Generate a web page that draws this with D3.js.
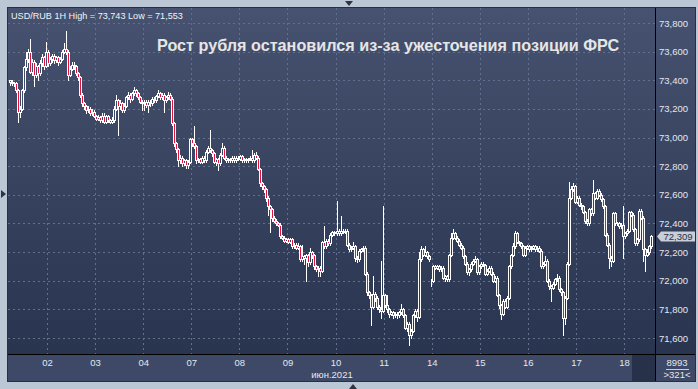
<!DOCTYPE html>
<html>
<head>
<meta charset="utf-8">
<script src="https://cdn.jsdelivr.net/npm/d3@7"></script>
<style>
  body { margin: 0; background: #bcc7d6; }
  svg { display: block; font-family: "Liberation Sans", Arial, sans-serif; }
</style>
</head>
<body>
<svg id="chart" width="698" height="389"></svg>
<script>
// USD/RUB 1H, 321 hourly bars (01.06 - 18.06.2021)
const opens = [
  73.40,73.39,73.38,73.38,73.33,73.18,73.20,73.33,73.49,73.55,
  73.60,73.46,73.53,73.44,73.50,73.45,73.52,73.56,73.50,73.60,
  73.52,73.55,73.57,73.54,73.56,73.53,73.55,73.60,73.62,73.60,
  73.44,73.48,73.51,73.50,73.45,73.42,73.30,73.24,73.22,73.19,
  73.20,73.17,73.18,73.15,73.13,73.14,73.12,73.15,73.11,73.15,
  73.12,73.11,73.12,73.20,73.26,73.22,73.24,73.19,73.22,73.28,
  73.30,73.27,73.31,73.33,73.31,73.28,73.25,73.24,73.25,73.23,
  73.25,73.24,73.27,73.26,73.29,73.31,73.28,73.30,73.26,73.28,
  73.30,73.27,73.10,72.96,72.92,72.84,72.86,72.82,72.84,72.81,
  72.83,72.99,72.96,72.94,72.84,72.85,72.83,72.86,72.84,72.90,
  72.93,72.91,72.89,72.83,72.85,72.82,72.88,72.93,72.86,72.84,
  72.85,72.84,72.86,72.84,72.86,72.85,72.87,72.84,72.85,72.84,
  72.85,72.86,72.84,72.88,72.86,72.78,72.68,72.66,72.64,72.58,
  72.52,72.50,72.44,72.42,72.40,72.39,72.31,72.30,72.28,72.29,
  72.27,72.29,72.24,72.25,72.23,72.24,72.15,72.17,72.16,72.18,
  72.13,72.20,72.18,72.10,72.08,72.09,72.07,72.27,72.24,72.28,
  72.26,72.32,72.34,72.33,72.35,72.33,72.35,72.34,72.35,72.25,
  72.22,72.23,72.24,72.16,72.15,72.21,72.22,72.23,72.05,71.92,
  71.90,71.82,71.91,71.88,71.82,71.80,71.79,71.90,71.83,71.80,
  71.77,71.78,71.76,71.77,71.76,71.78,71.80,71.76,71.67,71.70,
  71.62,71.65,71.76,71.79,71.75,72.15,72.22,72.18,72.20,72.17,
  72.00,72.00,72.10,72.09,72.10,72.08,72.09,72.02,72.03,72.01,
  72.18,72.30,72.33,72.30,72.28,72.25,72.23,72.17,72.12,72.06,
  72.08,72.12,72.14,72.15,72.06,72.10,72.12,72.11,72.05,72.07,
  72.09,72.05,72.00,72.02,71.90,71.83,71.77,71.86,71.82,71.88,
  72.10,72.18,72.24,72.33,72.27,72.26,72.24,72.18,72.23,72.24,
  72.22,72.23,72.24,72.22,72.23,72.21,72.10,72.12,72.14,72.00,
  71.96,71.95,71.98,72.01,72.02,71.94,71.92,71.74,71.88,72.12,
  72.58,72.64,72.66,72.55,72.58,72.53,72.52,72.48,72.42,72.40,
  72.50,72.47,72.61,72.58,72.63,72.60,72.57,72.52,72.32,72.25,
  72.16,72.14,72.47,72.40,72.40,72.38,72.39,72.31,72.33,72.35,
  72.48,72.46,72.36,72.26,72.29,72.49,72.44,72.22,72.18,72.20,
  72.24
];
const highs = [
  73.40,73.40,73.39,73.39,73.34,73.22,73.34,73.50,73.60,73.62,
  73.69,73.55,73.54,73.52,73.51,73.54,73.58,73.57,73.67,73.61,
  73.56,73.58,73.58,73.57,73.57,73.56,73.61,73.66,73.743,73.61,
  73.50,73.53,73.53,73.51,73.46,73.43,73.31,73.25,73.23,73.22,
  73.21,73.20,73.19,73.16,73.16,73.15,73.17,73.17,73.16,73.16,
  73.13,73.14,73.22,73.30,73.27,73.26,73.25,73.24,73.29,73.32,
  73.31,73.32,73.35,73.34,73.32,73.29,73.26,73.26,73.26,73.26,
  73.26,73.28,73.28,73.30,73.33,73.32,73.31,73.31,73.29,73.32,
  73.31,73.28,73.11,72.97,72.93,72.88,72.87,72.85,72.85,72.84,
  73.00,73.00,73.08,72.95,72.86,72.86,72.87,72.87,72.91,72.94,
  73.05,72.92,72.90,72.86,72.86,72.89,72.96,72.94,72.87,72.86,
  72.86,72.87,72.87,72.87,72.87,72.88,72.88,72.86,72.86,72.86,
  72.87,72.91,72.89,72.90,72.87,72.79,72.69,72.67,72.65,72.59,
  72.53,72.51,72.45,72.43,72.41,72.40,72.32,72.31,72.30,72.30,
  72.30,72.30,72.26,72.26,72.26,72.25,72.25,72.18,72.19,72.19,
  72.23,72.21,72.19,72.11,72.10,72.10,72.28,72.38,72.29,72.29,
  72.33,72.35,72.35,72.56,72.36,72.45,72.36,72.36,72.36,72.26,
  72.24,72.27,72.25,72.17,72.22,72.23,72.24,72.24,72.06,71.93,
  71.91,72.03,71.92,71.89,71.83,72.14,72.52,71.91,71.90,71.81,
  71.79,71.79,71.78,71.78,71.79,71.84,71.81,71.77,71.71,71.71,
  71.66,71.77,71.80,71.80,72.20,72.24,72.23,72.24,72.21,72.18,
  72.01,72.11,72.11,72.11,72.11,72.10,72.10,72.04,72.04,72.19,
  72.33,72.36,72.34,72.31,72.29,72.26,72.24,72.18,72.13,72.09,
  72.13,72.15,72.17,72.16,72.11,72.13,72.13,72.12,72.08,72.10,
  72.10,72.06,72.03,72.03,71.91,71.84,71.87,71.87,71.89,72.11,
  72.19,72.26,72.35,72.34,72.28,72.27,72.25,72.24,72.25,72.25,
  72.24,72.25,72.25,72.24,72.24,72.22,72.13,72.17,72.15,72.01,
  71.97,71.99,72.02,72.05,72.03,71.95,71.93,71.89,72.13,72.69,
  72.66,72.68,72.67,72.59,72.59,72.54,72.53,72.49,72.43,72.51,
  72.51,72.70,72.62,72.64,72.64,72.61,72.58,72.53,72.33,72.26,
  72.17,72.48,72.48,72.41,72.41,72.40,72.52,72.34,72.36,72.49,
  72.49,72.47,72.37,72.30,72.50,72.50,72.45,72.23,72.22,72.25,
  72.32
];
const lows = [
  73.37,73.37,73.36,73.32,73.11,73.14,73.19,73.32,73.47,73.53,
  73.45,73.44,73.36,73.42,73.40,73.44,73.50,73.48,73.49,73.50,
  73.51,73.53,73.52,73.53,73.51,73.52,73.54,73.59,73.58,73.40,
  73.43,73.47,73.48,73.44,73.40,73.28,73.22,73.20,73.17,73.18,
  73.16,73.16,73.14,73.12,73.12,73.11,73.11,73.10,73.10,73.11,
  73.10,73.10,73.11,73.19,73.02,73.20,73.18,73.18,73.21,73.27,
  73.25,73.26,73.30,73.29,73.27,73.24,73.19,73.19,73.21,73.18,
  73.22,73.23,73.25,73.25,73.28,73.27,73.27,73.18,73.25,73.27,
  73.26,73.09,72.94,72.90,72.80,72.82,72.80,72.81,72.79,72.79,
  72.82,72.94,72.93,72.82,72.83,72.82,72.82,72.83,72.83,72.89,
  72.90,72.87,72.82,72.81,72.77,72.81,72.87,72.85,72.83,72.83,
  72.83,72.83,72.83,72.83,72.84,72.84,72.83,72.83,72.83,72.83,
  72.84,72.83,72.83,72.85,72.77,72.66,72.64,72.62,72.56,72.46,
  72.34,72.42,72.41,72.39,72.38,72.30,72.29,72.27,72.27,72.26,
  72.26,72.23,72.23,72.22,72.22,72.14,72.14,72.12,72.00,72.10,
  72.12,72.16,72.08,72.07,72.03,72.03,72.06,72.23,72.23,72.25,
  72.25,72.31,72.32,72.32,72.32,72.32,72.33,72.33,72.24,72.21,
  72.21,72.22,72.14,72.13,72.14,72.20,72.21,72.04,71.90,71.88,
  71.69,71.81,71.86,71.80,71.78,71.74,71.78,71.82,71.78,71.75,
  71.76,71.74,71.75,71.74,71.75,71.77,71.75,71.66,71.65,71.553,
  71.60,71.64,71.75,71.72,71.74,72.14,72.17,72.17,72.16,72.14,
  71.96,71.99,72.08,72.08,72.07,72.07,72.01,72.00,72.00,72.00,
  72.17,72.29,72.29,72.27,72.24,72.22,72.16,72.11,72.05,72.04,
  72.07,72.11,72.13,72.05,72.05,72.09,72.10,72.04,72.04,72.06,
  72.04,71.99,71.99,71.89,71.81,71.73,71.76,71.81,71.81,71.87,
  72.09,72.17,72.23,72.26,72.25,72.23,72.17,72.17,72.22,72.21,
  72.21,72.22,72.21,72.21,72.20,72.09,72.09,72.11,71.99,71.94,
  71.86,71.94,71.97,72.00,71.93,71.90,71.62,71.70,71.87,72.11,
  72.57,72.63,72.54,72.54,72.52,72.50,72.47,72.40,72.39,72.39,
  72.46,72.46,72.57,72.57,72.59,72.56,72.51,72.31,72.24,72.09,
  72.10,72.13,72.39,72.39,72.37,72.37,72.16,72.30,72.32,72.34,
  72.45,72.35,72.25,72.25,72.28,72.43,72.14,72.07,72.17,72.19,
  72.23
];
const closes = [
  73.39,73.38,73.38,73.33,73.18,73.20,73.33,73.49,73.55,73.60,
  73.46,73.53,73.44,73.50,73.45,73.52,73.56,73.50,73.60,73.52,
  73.55,73.57,73.54,73.56,73.53,73.55,73.60,73.62,73.60,73.44,
  73.48,73.51,73.50,73.45,73.42,73.30,73.24,73.22,73.19,73.20,
  73.17,73.18,73.15,73.13,73.14,73.12,73.15,73.11,73.15,73.12,
  73.11,73.12,73.20,73.26,73.22,73.24,73.19,73.22,73.28,73.30,
  73.27,73.31,73.33,73.31,73.28,73.25,73.24,73.25,73.23,73.25,
  73.24,73.27,73.26,73.29,73.31,73.28,73.30,73.26,73.28,73.30,
  73.27,73.10,72.96,72.92,72.84,72.86,72.82,72.84,72.81,72.83,
  72.99,72.96,72.94,72.84,72.85,72.83,72.86,72.84,72.90,72.93,
  72.91,72.89,72.83,72.85,72.82,72.88,72.93,72.86,72.84,72.85,
  72.84,72.86,72.84,72.86,72.85,72.87,72.84,72.85,72.84,72.85,
  72.86,72.84,72.88,72.86,72.78,72.68,72.66,72.64,72.58,72.52,
  72.50,72.44,72.42,72.40,72.39,72.31,72.30,72.28,72.29,72.27,
  72.29,72.24,72.25,72.23,72.24,72.15,72.17,72.16,72.18,72.13,
  72.20,72.18,72.10,72.08,72.09,72.07,72.27,72.24,72.28,72.26,
  72.32,72.34,72.33,72.35,72.33,72.35,72.34,72.35,72.25,72.22,
  72.23,72.24,72.16,72.15,72.21,72.22,72.23,72.05,71.92,71.90,
  71.82,71.91,71.88,71.82,71.80,71.79,71.90,71.83,71.80,71.77,
  71.78,71.76,71.77,71.76,71.78,71.80,71.76,71.67,71.70,71.62,
  71.65,71.76,71.79,71.75,72.15,72.22,72.18,72.20,72.17,72.15,
  72.00,72.10,72.09,72.10,72.08,72.09,72.02,72.03,72.01,72.18,
  72.30,72.33,72.30,72.28,72.25,72.23,72.17,72.12,72.06,72.08,
  72.12,72.14,72.15,72.06,72.10,72.12,72.11,72.05,72.07,72.09,
  72.05,72.00,72.02,71.90,71.83,71.77,71.86,71.82,71.88,72.10,
  72.18,72.24,72.33,72.27,72.26,72.24,72.18,72.23,72.24,72.22,
  72.23,72.24,72.22,72.23,72.21,72.10,72.12,72.14,72.00,71.96,
  71.95,71.98,72.01,72.02,71.94,71.92,71.74,71.88,72.12,72.58,
  72.64,72.66,72.55,72.58,72.53,72.52,72.48,72.42,72.40,72.50,
  72.47,72.61,72.58,72.63,72.60,72.57,72.52,72.32,72.25,72.16,
  72.14,72.47,72.40,72.40,72.38,72.39,72.31,72.33,72.35,72.48,
  72.46,72.36,72.26,72.29,72.49,72.44,72.22,72.18,72.20,72.24,
  72.309
];

const priceTicks = [71.6, 71.8, 72.0, 72.2, 72.4, 72.6, 72.8, 73.0, 73.2, 73.4, 73.6, 73.8];
const dayLabels = ['02', '03', '04', '07', '08', '09', '10', '11', '14', '15', '16', '17', '18'];
const dayFirstBar = [19, 43, 67, 91, 115, 139, 163, 187, 211, 235, 259, 283, 307];
const monthLabel = 'июн.2021';
const headerText = 'USD/RUB 1H High = 73,743 Low = 71,553';
const titleText = 'Рост рубля остановился из-за ужесточения позиции ФРС';
const totalBars = '8993';
const visibleBars = '>321<';

const box = { left: 8, top: 8, right: 695, bottom: 381 };
const plot = { left: 8, top: 8, right: 655, bottom: 354 };

const fmtPrice = (d) => d3.format('.3f')(d).replace('.', ',');

const svg = d3.select('#chart');
const defs = svg.append('defs');

const grad = defs.append('linearGradient')
  .attr('id', 'bg')
  .attr('gradientUnits', 'userSpaceOnUse')
  .attr('x1', 0).attr('y1', plot.top).attr('x2', 0).attr('y2', plot.bottom);
grad.append('stop').attr('offset', 0).attr('stop-color', '#46526f');
grad.append('stop').attr('offset', 1).attr('stop-color', '#29344f');

defs.append('clipPath').attr('id', 'plot-clip')
  .append('rect')
  .attr('x', plot.left).attr('y', plot.top)
  .attr('width', plot.right - plot.left).attr('height', plot.bottom - plot.top);

// scales: bar index -> px, price -> px
const xScale = d3.scaleLinear().domain([19, 307]).range([47, 624]);
const yScale = d3.scaleLinear().domain([71.6, 73.8]).range([338, 23]);

// backgrounds
svg.append('rect')
  .attr('x', box.left).attr('y', box.top)
  .attr('width', box.right - box.left).attr('height', plot.bottom - box.top)
  .attr('fill', 'url(#bg)');
svg.append('rect')
  .attr('x', box.left).attr('y', plot.bottom)
  .attr('width', box.right - box.left).attr('height', box.bottom - plot.bottom)
  .attr('fill', '#3d4966');
svg.append('rect')
  .attr('x', 632).attr('y', plot.bottom)
  .attr('width', plot.right - 632).attr('height', box.bottom - plot.bottom)
  .attr('fill', '#27314a');

// gridlines
svg.append('g')
  .attr('class', 'grid-y')
  .selectAll('line')
  .data(priceTicks)
  .join('line')
  .attr('x1', plot.left).attr('x2', plot.right)
  .attr('y1', (d) => Math.round(yScale(d)) + 0.5)
  .attr('y2', (d) => Math.round(yScale(d)) + 0.5)
  .attr('stroke', '#61708f')
  .attr('stroke-dasharray', '2,3');

svg.append('g')
  .attr('class', 'grid-x')
  .selectAll('line')
  .data(dayFirstBar)
  .join('line')
  .attr('x1', (d) => Math.round(xScale(d)) + 0.5)
  .attr('x2', (d) => Math.round(xScale(d)) + 0.5)
  .attr('y1', plot.top).attr('y2', plot.bottom)
  .attr('stroke', '#61708f')
  .attr('stroke-dasharray', '2,3');

// price axis
const yAxis = d3.axisRight(yScale)
  .tickValues(priceTicks)
  .tickFormat(fmtPrice)
  .tickSize(0)
  .tickPadding(4);
const yG = svg.append('g')
  .attr('transform', `translate(${plot.right}, 0)`)
  .call(yAxis);
yG.select('.domain').remove();
yG.selectAll('text')
  .attr('fill', '#e2e8f1')
  .attr('font-size', 9.5)
  .attr('font-family', '"Liberation Sans", Arial, sans-serif');

// date axis
const xAxis = d3.axisBottom(xScale)
  .tickValues(dayFirstBar)
  .tickFormat((d, i) => dayLabels[i])
  .tickSize(0)
  .tickPadding(5);
const xG = svg.append('g')
  .attr('transform', `translate(0, ${plot.bottom})`)
  .call(xAxis);
xG.select('.domain').remove();
xG.selectAll('text')
  .attr('fill', '#e2e8f1')
  .attr('font-size', 9.5)
  .attr('font-family', '"Liberation Sans", Arial, sans-serif');

svg.append('text')
  .attr('x', 332).attr('y', 377.5)
  .attr('text-anchor', 'middle')
  .attr('fill', '#e2e8f1')
  .attr('font-size', 9.5)
  .text(monthLabel);

// candles
const bars = closes.map((c, i) => ({ i, o: opens[i], h: highs[i], l: lows[i], c }));

const candles = svg.append('g')
  .attr('clip-path', 'url(#plot-clip)')
  .selectAll('g')
  .data(bars)
  .join('g');

candles.append('line')
  .attr('x1', (d) => Math.round(xScale(d.i)) + 1.5)
  .attr('x2', (d) => Math.round(xScale(d.i)) + 1.5)
  .attr('y1', (d) => Math.round(yScale(d.h)))
  .attr('y2', (d) => Math.round(yScale(d.l)) + 1)
  .attr('stroke', '#ffffff')
  .attr('stroke-width', 1);

candles.append('rect')
  .attr('x', (d) => Math.round(xScale(d.i)) + 0.5)
  .attr('y', (d) => Math.round(yScale(Math.max(d.o, d.c))) + 0.5)
  .attr('width', 2)
  .attr('height', (d) => Math.max(0, Math.round(yScale(Math.min(d.o, d.c))) - Math.round(yScale(Math.max(d.o, d.c)))))
  .attr('fill', (d) => d.c < d.o ? '#e4133e' : 'url(#bg)')
  .attr('stroke', '#ffffff')
  .attr('stroke-width', 1);

// frame lines
svg.append('line')
  .attr('x1', box.left).attr('x2', box.right)
  .attr('y1', plot.bottom + 0.5).attr('y2', plot.bottom + 0.5)
  .attr('stroke', '#000');
svg.append('line')
  .attr('x1', plot.right + 0.5).attr('x2', plot.right + 0.5)
  .attr('y1', box.top).attr('y2', box.bottom)
  .attr('stroke', '#000');
svg.append('rect')
  .attr('x', box.left - 0.5).attr('y', box.top - 0.5)
  .attr('width', box.right - box.left + 1).attr('height', box.bottom - box.top + 1)
  .attr('fill', 'none')
  .attr('stroke', '#2b2f38');

// current price marker
const last = closes[closes.length - 1];
const ly = yScale(last);
svg.append('path')
  .attr('d', `M657,${ly} L661,${ly - 5} L695,${ly - 5} L695,${ly + 5} L661,${ly + 5} Z`)
  .attr('fill', '#c9ced7');
svg.append('text')
  .attr('x', 678).attr('y', ly + 3.5)
  .attr('text-anchor', 'middle')
  .attr('fill', '#2a3042')
  .attr('font-size', 9.5)
  .text(fmtPrice(last));

// bar counter
svg.append('text')
  .attr('x', 677).attr('y', 365.5)
  .attr('text-anchor', 'middle')
  .attr('fill', '#e2e8f1')
  .attr('font-size', 9.5)
  .text(totalBars);
svg.append('line')
  .attr('x1', 666).attr('x2', 689)
  .attr('y1', 369.5).attr('y2', 369.5)
  .attr('stroke', '#c8d0dc');
svg.append('text')
  .attr('x', 677).attr('y', 377.5)
  .attr('text-anchor', 'middle')
  .attr('fill', '#e2e8f1')
  .attr('font-size', 9.5)
  .text(visibleBars);

// header and title
svg.append('text')
  .attr('x', 11).attr('y', 18.5)
  .attr('fill', '#f2f4f8')
  .attr('font-size', 9.1)
  .text(headerText);
svg.append('text')
  .attr('x', 157).attr('y', 51)
  .attr('fill', '#e6e6e6')
  .attr('font-size', 16.2)
  .attr('font-weight', 'bold')
  .text(titleText);

// scroll arrows in the outer frame
svg.append('path').attr('d', 'M345,1 L353,1 L349,6 Z').attr('fill', '#2e3442');
svg.append('path').attr('d', 'M349,389 L357,389 L353,384 Z').attr('fill', '#2e3442');
svg.append('path').attr('d', 'M1,190 L1,198 L6,194 Z').attr('fill', '#2e3442');
</script>
</body>
</html>
